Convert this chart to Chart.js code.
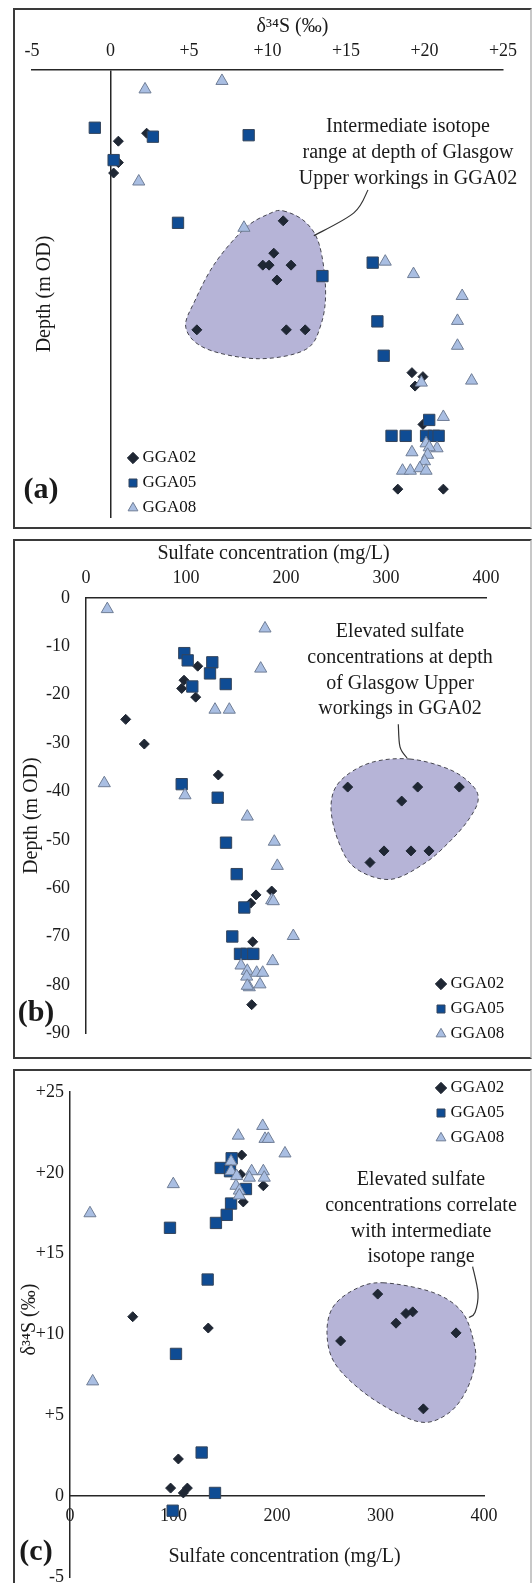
<!DOCTYPE html>
<html>
<head>
<meta charset="utf-8">
<script src="https://cdn.jsdelivr.net/npm/chart.js@4.4.1/dist/chart.umd.min.js"></script>
<style>
    html, body { margin: 0; padding: 0; background: #fff; }
    body { width: 532px; height: 1583px; overflow: hidden; position: relative; }
    .box { position: absolute; left: 13px; width: 519px; border: 2px solid #3a3a3a; border-right-color: #c8c8c8; box-sizing: border-box; }
    canvas { position: absolute; left: 0; }
</style>
</head>
<body>
<div class="box" style="top:8px;height:521px"></div>
<div class="box" style="top:539px;height:520px"></div>
<div class="box" style="top:1069px;height:600px"></div>
<canvas id="chartA" width="532" height="530" style="top:0"></canvas>
<canvas id="chartB" width="532" height="530" style="top:530px"></canvas>
<canvas id="chartC" width="532" height="540" style="top:1060px"></canvas>
<script>
// (a) d34S (x) vs depth (y)
const a02 = [[2.3, -12.7], [0.5, -14.3], [0.5, -18.6], [0.2, -20.7], [11.0, -30.3], [10.4, -36.8], [9.7, -39.2],
    [10.1, -39.2], [11.5, -39.2], [10.6, -42.2], [5.5, -52.2], [11.2, -52.2], [12.4, -52.2], [19.2, -60.8],
    [19.9, -61.6], [19.4, -63.5], [19.9, -71.2], [18.3, -84.2], [21.2, -84.2]];
const a05 = [[-1.0, -11.6], [2.7, -13.4], [8.8, -13.1], [0.2, -18.1], [4.3, -30.7], [16.7, -38.7], [13.5, -41.4],
    [17.0, -50.5], [17.4, -57.4], [20.3, -70.3], [17.9, -73.5], [18.8, -73.5], [20.1, -73.5], [20.6, -73.5], [20.9, -73.5]];
const a08 = [[2.2, -3.9], [7.1, -2.2], [1.8, -22.4], [8.5, -31.7], [17.5, -38.5], [19.3, -41.0], [22.4, -45.4],
    [22.1, -50.4], [22.1, -55.4], [23.0, -62.4], [19.8, -62.8], [21.2, -69.7], [20.1, -75.0], [20.8, -76.0],
    [20.3, -75.8], [19.2, -76.8], [20.2, -77.3], [20.0, -78.6], [18.6, -80.5], [19.1, -80.5], [19.7, -80.0], [20.1, -80.5]];

// (b) sulfate (x) vs depth (y)
const b02 = [[111.7, -14.1], [98, -17.0], [95.7, -18.7], [109.7, -20.5], [39.7, -25.1], [58.3, -30.2], [132.3, -36.6],
    [261.7, -39.1], [331.7, -39.1], [373.3, -39.1], [315.7, -42.0], [298, -52.3], [325, -52.3], [343, -52.3],
    [284, -54.7], [185.7, -60.6], [170, -61.4], [164.7, -63.1], [166.7, -71.1], [165.7, -84.1]];
const b05 = [[98.3, -11.4], [101.7, -12.9], [126.3, -13.3], [124, -15.6], [106.3, -18.3], [139.7, -17.8], [95.7, -38.5],
    [131.7, -41.3], [140, -50.6], [150.7, -57.1], [158.3, -64.0], [146.3, -70.0], [154, -73.6], [160.7, -73.6], [167.3, -73.6]];
const b08 = [[21.3, -2.3], [179, -6.3], [174.7, -14.6], [129, -23.1], [143.3, -23.1], [18.3, -38.3], [99, -40.8],
    [161.3, -45.2], [188.3, -50.4], [191.3, -55.4], [185.7, -62.5], [187.3, -62.7], [207.3, -69.9], [186.7, -75.1],
    [155, -76.0], [161.3, -77.1], [170.7, -77.5], [176.7, -77.5], [160.7, -78.3], [174, -79.9], [163.3, -80.5], [161.3, -80.2]];

// (c) sulfate (x) vs d34S (y)
const c02 = [[165.9, 21.1], [186.8, 19.2], [167.4, 18.2], [165, 19.9], [60.6, 11.1], [133.6, 10.4], [297.3, 12.5],
    [324.6, 11.3], [331.1, 11.4], [315, 10.7], [373, 10.1], [261.5, 9.6], [341.4, 5.4], [104.7, 2.3], [97.2, 0.5],
    [113.4, 0.5], [109.5, 0.2]];
const c05 = [[156.2, 20.9], [145.6, 20.3], [154.6, 20.1], [170, 19.0], [155.6, 18.1], [151.4, 17.4], [141, 16.9],
    [96.6, 16.6], [133, 13.4], [102.4, 8.8], [127.2, 2.7], [140.1, 0.2], [99.2, -0.9]];
const c08 = [[186.2, 22.9], [162.6, 22.3], [188.4, 22.1], [191.6, 22.1], [207.7, 21.2], [155.6, 20.7], [155.6, 20.1],
    [161, 19.8], [175.5, 20.1], [186.8, 20.1], [173.3, 19.7], [187.7, 19.7], [160.4, 19.2], [163.6, 18.9],
    [163.6, 18.6], [99.8, 19.3], [19.3, 17.5], [21.9, 7.1]];

// shaded zones and their leader lines (data units)
const blobA = [[11.0, -28.3], [12.4, -30.5], [13.3, -35.1], [13.7, -44.2], [13.4, -51.2], [12.4, -56.2], [9.4, -58.0],
    [6.1, -56.0], [4.8, -51.8], [5.4, -46.2], [6.7, -38.6], [8.6, -31.7], [10.1, -28.9]];
const leaderA = [[12.95, -33.3], [15.5, -28.7], [16.4, -24.1]];
const blobB = [[324, -33.3], [364, -35.5], [387, -38.9], [392, -42.0], [382, -46.0], [364, -50.3], [339, -54.8],
    [304, -58.2], [269, -55.8], [252, -50.1], [245, -43.0], [254, -37.9], [284, -34.1]];
const leaderB = [[312.3, -26.1], [314, -30.8], [321, -33.1]];
const blobC = [[302.4, 13.2], [350.7, 12.6], [378.7, 11.4], [390.3, 9.5], [391.3, 8.15], [382.6, 6.5], [367.1, 5.2],
    [343, 4.56], [314, 5.2], [280.2, 6.6], [255.1, 8.3], [248.3, 10.1], [254.1, 11.7], [275.4, 12.8]];
const leaderC = [[389, 14.2], [394.2, 12.55], [391.3, 11.36], [385.5, 11.05]];

const noteA = ['Intermediate isotope', 'range at depth of Glasgow', 'Upper workings in GGA02'];
const noteB = ['Elevated sulfate', 'concentrations at depth', 'of Glasgow Upper', 'workings in GGA02'];
const noteC = ['Elevated sulfate', 'concentrations correlate', 'with intermediate', 'isotope range'];

const SERIF = '"Liberation Serif", "Times New Roman", serif';
const AXIS = '#262626';
const FS = '\u2007'; // figure space, nudges centred titles
Chart.defaults.font.family = SERIF;
Chart.defaults.color = '#1a1a1a';

const signed = v => (v > 0 ? '+' + v : String(v));
const plain = v => String(v);

function smooth(ctx, p, closed) {
    const n = p.length;
    ctx.moveTo(p[0][0], p[0][1]);
    const last = closed ? n : n - 1;
    for (let i = 0; i < last; i++) {
        const p0 = closed ? p[(i - 1 + n) % n] : p[Math.max(i - 1, 0)];
        const p1 = p[i];
        const p2 = closed ? p[(i + 1) % n] : p[i + 1];
        const p3 = closed ? p[(i + 2) % n] : p[Math.min(i + 2, n - 1)];
        ctx.bezierCurveTo(p1[0] + (p2[0] - p0[0]) / 6, p1[1] + (p2[1] - p0[1]) / 6,
            p2[0] - (p3[0] - p1[0]) / 6, p2[1] - (p3[1] - p1[1]) / 6, p2[0], p2[1]);
    }
    if (closed) ctx.closePath();
}

// zone, leader, note, panel letter; and moves the legend inside the plot
const decor = {
    id: 'decor',
    afterLayout(chart, args, o) {
        const lg = chart.legend;
        if (!lg || !o.legendAt) return;
        const pad = lg.options.labels.padding;
        const left = o.legendAt.x - pad - 1;
        const top = o.legendAt.y - pad - 8.5;
        const w = lg.width, h = lg.height;
        lg.left = left; lg.top = top; lg.right = left + w; lg.bottom = top + h;
    },
    beforeDatasetsDraw(chart, args, o) {
        if (!o.blob) return;
        const { ctx, scales: { x, y } } = chart;
        const px = p => [x.getPixelForValue(p[0]), y.getPixelForValue(p[1])];
        ctx.save();
        ctx.beginPath();
        smooth(ctx, o.blob.map(px), true);
        ctx.fillStyle = '#b6b4d7';
        ctx.fill();
        ctx.setLineDash([4, 3]);
        ctx.lineWidth = 1;
        ctx.strokeStyle = '#45454f';
        ctx.stroke();
        ctx.setLineDash([]);
        ctx.beginPath();
        smooth(ctx, o.leader.map(px), false);
        ctx.lineWidth = 1.2;
        ctx.strokeStyle = '#333';
        ctx.stroke();
        ctx.fillStyle = '#1a1a1a';
        ctx.textAlign = 'center';
        ctx.textBaseline = 'middle';
        ctx.font = '20px ' + SERIF;
        o.note.lines.forEach((t, i) => ctx.fillText(t, o.note.x, o.note.y + i * 25.7));
        ctx.font = 'bold 30px ' + SERIF;
        ctx.fillText(o.tag.text, o.tag.x, o.tag.y);
        ctx.restore();
    }
};

const S02 = { pointStyle: 'rectRot', pointRadius: 5, backgroundColor: '#1f2734', borderColor: '#1f2734', borderWidth: 1, order: 3 };
const S05 = { pointStyle: 'rect', pointRadius: 8, backgroundColor: '#0f4c94', borderColor: '#34455c', borderWidth: 1, order: 2 };
const S08 = { pointStyle: 'triangle', pointRadius: 7, backgroundColor: '#a9bee2', borderColor: '#6f7d95', borderWidth: 1, order: 1 };

function sets(s02, s05, s08) {
    const xy = arr => arr.map(p => ({ x: p[0], y: p[1] }));
    return [
        Object.assign({ label: 'GGA02', data: xy(s02) }, S02),
        Object.assign({ label: 'GGA05', data: xy(s05) }, S05),
        Object.assign({ label: 'GGA08', data: xy(s08) }, S08)
    ];
}

function legendOpts() {
    return {
        position: 'chartArea',
        align: 'start',
        labels: {
            usePointStyle: true, boxWidth: 2, boxHeight: 8, padding: 8,
            font: { size: 17 }, color: '#111',
            sort: (a, b) => a.datasetIndex - b.datasetIndex
        }
    };
}

const base = { responsive: false, animation: false, events: [] };

// (a)
new Chart(document.getElementById('chartA'), {
    type: 'scatter',
    data: { datasets: sets(a02, a05, a08) },
    plugins: [decor],
    options: Object.assign({}, base, {
        layout: { padding: { left: 0, top: 0, right: 29, bottom: 12 } },
        plugins: {
            legend: legendOpts(),
            tooltip: { enabled: false },
            decor: {
                blob: blobA, leader: leaderA,
                note: { lines: noteA, x: 408, y: 127 },
                tag: { text: '(a)', x: 41, y: 490 },
                legendAt: { x: 133, y: 458 }
            }
        },
        scales: {
            x: {
                type: 'linear', position: 'top', min: -5, max: 25,
                ticks: { stepSize: 5, padding: 8, font: { size: 18 }, callback: signed },
                grid: { drawTicks: false, lineWidth: 1.5, color: c => (c.tick && c.tick.value === 0 ? AXIS : 'rgba(0,0,0,0)') },
                border: { color: AXIS, width: 1.5 },
                title: { display: true, text: FS.repeat(5) + 'δ³⁴S (‰)', font: { size: 20 }, padding: { top: 15, bottom: 0 } },
                afterFit: s => { s.height = 70; }
            },
            y: {
                type: 'linear', position: 'left', min: -90, max: 0,
                ticks: { stepSize: 10, padding: -65, font: { size: 18 }, callback: plain },
                grid: { display: false, drawTicks: false },
                border: { display: false },
                title: { display: true, text: 'Depth (m OD)', font: { size: 20 }, padding: { top: 33, bottom: 0 } },
                afterFit: s => { s.width = 32; }
            }
        }
    })
});

// (b)
new Chart(document.getElementById('chartB'), {
    type: 'scatter',
    data: { datasets: sets(b02, b05, b08) },
    plugins: [decor],
    options: Object.assign({}, base, {
        layout: { padding: { left: 0, top: 0, right: 46, bottom: 18 } },
        plugins: {
            legend: legendOpts(),
            tooltip: { enabled: false },
            decor: {
                blob: blobB, leader: leaderB,
                note: { lines: noteB, x: 400, y: 102 },
                tag: { text: '(b)', x: 36, y: 483 },
                legendAt: { x: 441, y: 454 }
            }
        },
        scales: {
            x: {
                type: 'linear', position: 'top', min: 0, max: 400,
                ticks: { stepSize: 100, padding: 9, font: { size: 18 }, callback: plain },
                grid: { display: false, drawTicks: false },
                border: { color: AXIS, width: 1.5 },
                title: { display: true, text: 'Sulfate concentration (mg/L)' + FS.repeat(2) + ' ', font: { size: 20 }, padding: { top: 12, bottom: 0 } },
                afterFit: s => { s.height = 68; }
            },
            y: {
                type: 'linear', position: 'left', min: -90, max: 0,
                ticks: { stepSize: 10, padding: 16, font: { size: 18 }, callback: plain },
                grid: { display: false, drawTicks: false },
                border: { color: AXIS, width: 1.5 },
                title: { display: true, text: 'Depth (m OD)', font: { size: 20 }, padding: { top: 20, bottom: 0 } },
                afterFit: s => { s.width = 86; }
            }
        }
    })
});

// (c)
new Chart(document.getElementById('chartC'), {
    type: 'scatter',
    data: { datasets: sets(c02, c05, c08) },
    plugins: [decor],
    options: Object.assign({}, base, {
        layout: { padding: { left: 0, top: 32, right: 48, bottom: 23 } },
        plugins: {
            legend: legendOpts(),
            tooltip: { enabled: false },
            decor: {
                blob: blobC, leader: leaderC,
                note: { lines: noteC, x: 421, y: 120 },
                tag: { text: '(c)', x: 36, y: 492 },
                legendAt: { x: 441, y: 28 }
            }
        },
        scales: {
            x: {
                type: 'linear', position: { y: 0 }, min: 0, max: 400,
                ticks: { stepSize: 100, padding: 9, font: { size: 18 }, callback: plain },
                grid: { display: false, drawTicks: false },
                border: { color: AXIS, width: 1.5 },
                title: { display: true, text: FS + ' Sulfate concentration (mg/L)', font: { size: 20 }, padding: { top: 0, bottom: 7 } },
                afterFit: s => { s.height = 80; }
            },
            y: {
                type: 'linear', position: 'left', min: -5, max: 25,
                ticks: { stepSize: 5, padding: 6, font: { size: 18 }, callback: signed },
                grid: { display: false, drawTicks: false },
                border: { color: AXIS, width: 1.5 },
                title: { display: true, text: FS.repeat(3) + 'δ³⁴S (‰)', font: { size: 20 }, padding: { top: 18, bottom: 0 } },
                afterFit: s => { s.width = 70; }
            }
        }
    })
});
</script>
</body>
</html>
